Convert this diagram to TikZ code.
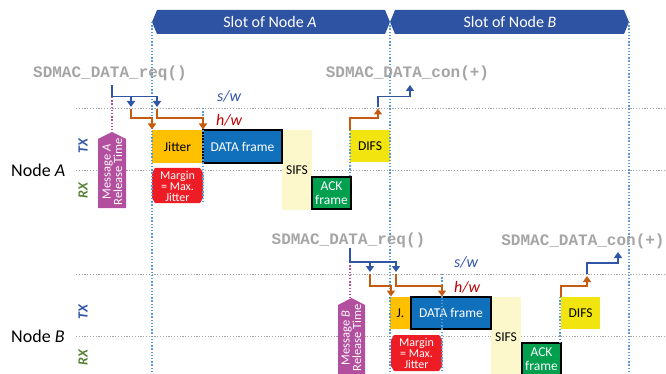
\documentclass[tikz,border=0pt]{standalone}
\usepackage{fontspec}
\setmainfont{Carlito}
\newfontfamily\codefont{Liberation Mono}
\usetikzlibrary{arrows.meta}
\definecolor{slotblue}{HTML}{2F53A3}
\definecolor{swblue}{HTML}{2F55A4}
\definecolor{hwred}{HTML}{C00000}
\definecolor{hworange}{HTML}{C55A11}
\definecolor{rxgreen}{HTML}{538135}
\definecolor{guide}{HTML}{5B9BD5}
\definecolor{gridgray}{HTML}{A6A6A6}
\definecolor{codegray}{HTML}{A5A5A5}
\definecolor{jitcol}{HTML}{FFC000}
\definecolor{datacol}{HTML}{1170BC}
\definecolor{sifscol}{HTML}{FDF8CC}
\definecolor{ackcol}{HTML}{00A04F}
\definecolor{margcol}{HTML}{EE1C25}
\definecolor{difscol}{HTML}{F2E50F}
\definecolor{msgcol}{HTML}{B24F9E}
\begin{document}
\begin{tikzpicture}[x=1pt,y=-1pt,
  gridline/.style={gridgray, line width=0.8pt, dash pattern=on 1.2pt off 1.6pt},
  guideline/.style={guide, line width=1.4pt, dash pattern=on 1.4pt off 1.8pt},
  relline/.style={msgcol, line width=1.4pt, dash pattern=on 1.4pt off 1.8pt},
  swarrow/.style={swblue, line width=1.8pt, -{Triangle[width=8pt,length=6pt]}},
  hwarrow/.style={hworange, line width=1.8pt, -{Triangle[width=8pt,length=6pt]}},
  lbl/.style={inner sep=0pt, align=center, font=\fontsize{13.5}{14}\selectfont},
  boxn/.style={lbl, anchor=north west, outer sep=0pt},
  framed/.style={draw=black, line width=1.2pt},
  code/.style={inner sep=0pt, anchor=base, text=codegray,
    font=\codefont\bfseries\fontsize{16}{16}\selectfont},
  sidetx/.style={inner sep=0pt, rotate=90, text=swblue,
    font=\fontsize{14}{14}\selectfont\bfseries\itshape},
  siderx/.style={sidetx, text=rxgreen},
  layer/.style={inner sep=0pt, font=\fontsize{16}{16}\selectfont\itshape},
  nodename/.style={inner sep=0pt, anchor=west, font=\fontsize{18}{18}\selectfont},
  msgtext/.style={inner sep=0pt, rotate=90, text=white, align=center,
    font=\fontsize{12.5}{11.5}\selectfont},
  margtext/.style={inner sep=0pt, text=white, align=center,
    font=\fontsize{12}{11}\selectfont},
  slottext/.style={inner sep=0pt, text=white, font=\fontsize{16}{16}\selectfont}
]
\useasboundingbox (0,0) rectangle (666,374);
\clip (0,0) rectangle (666,374);

% ---------- horizontal grid lines ----------
\draw[gridline] (76,108) -- (666,108);
\draw[gridline] (76,170) -- (666,170);
\draw[gridline] (76,274) -- (666,274);
\draw[gridline] (76,336) -- (666,336);

% ---------- slot banners ----------
\fill[slotblue] (152,22) -- (157,10) -- (385,10) -- (390,22) -- (385,34) -- (157,34) -- cycle;
\fill[slotblue] (390,22) -- (395,10) -- (624,10) -- (629,22) -- (624,34) -- (395,34) -- cycle;
\node[slottext] (slotA) at (270,22) {Slot of Node \textit{A}};
\node[slottext] (slotB) at (510,22) {Slot of Node \textit{B}};

% ---------- node labels ----------
\node[nodename] (nodeA) at (11,170) {Node \textit{A}};
\node[nodename] (nodeB) at (11,336) {Node \textit{B}};
\node[sidetx] (txA) at (83,146) {TX};
\node[siderx] (rxA) at (83,191) {RX};
\node[sidetx] (txB) at (83,312) {TX};
\node[siderx] (rxB) at (83,358) {RX};

% ---------- node A timeline ----------
\node[boxn, fill=jitcol, minimum width=51, minimum height=33] (jitA) at (152,130) {Jitter};
\node[boxn, fill=sifscol, minimum width=30, minimum height=80] (sifsA) at (282,130) {SIFS};
\node[boxn, fill=datacol, framed, text=white, minimum width=79, minimum height=33] (dataA) at (203,130) {DATA frame};
\node[boxn, fill=ackcol, framed, text=white, minimum width=39, minimum height=32] (ackA) at (312,177) {ACK\\frame};
\node[boxn, fill=difscol, minimum width=40, minimum height=32] (difsA) at (350,130) {DIFS};
\fill[margcol] (155,168) -- (200,168) -- (203,173) -- (203,198) -- (200,203) -- (155,203) -- (152,198) -- (152,173) -- cycle;
\node[margtext] (margA) at (177.5,186) {Margin\\= Max.\\Jitter};
\fill[msgcol] (98,208) -- (98,139) -- (112,132) -- (126,139) -- (126,208) -- cycle;
\node[msgtext] (msgA) at (112.5,172) {Message \textit{A}\\Release Time};

% ---------- node B timeline ----------
\node[boxn, fill=jitcol, minimum width=21, minimum height=32] (jitB) at (390,297) {J.};
\node[boxn, fill=sifscol, minimum width=30, minimum height=80] (sifsB) at (491,297) {SIFS};
\node[boxn, fill=datacol, framed, text=white, minimum width=80, minimum height=32] (dataB) at (411,297) {DATA frame};
\node[boxn, fill=ackcol, framed, text=white, minimum width=39, minimum height=32] (ackB) at (522,343) {ACK\\frame};
\node[boxn, fill=difscol, minimum width=39, minimum height=32] (difsB) at (561,297) {DIFS};
\fill[margcol] (394,335) -- (439,335) -- (442,340) -- (442,366) -- (439,371) -- (394,371) -- (391,366) -- (391,340) -- cycle;
\node[margtext] (margB) at (416.5,353) {Margin\\= Max.\\Jitter};
\fill[msgcol] (338,380) -- (338,305) -- (351.5,298) -- (365,305) -- (365,380) -- cycle;
\node[msgtext] (msgB) at (351.5,338) {Message \textit{B}\\Release Time};

% ---------- slot boundaries and timing guides ----------
\draw[guideline] (152,22) -- (152,374);
\draw[guideline] (390,22) -- (390,374);
\draw[guideline] (629,22) -- (629,374);
\draw[guideline] (203,108) -- (203,204);
\draw[guideline] (350,130) -- (350,177);
\draw[guideline] (442,274) -- (442,372);
\draw[guideline] (560,297) -- (560,343);

% ---------- primitive calls ----------
\node[code] (reqA) at (110,78) {SDMAC\_DATA\_req()};
\node[code] (conA) at (407.5,78) {SDMAC\_DATA\_con(+)};
\node[code] (reqB) at (348.5,244) {SDMAC\_DATA\_req()};
\node[code] (conB) at (583,245) {SDMAC\_DATA\_con(+)};

\node[layer, text=swblue] (swA) at (229,96) {s/w};
\node[layer, text=hwred] (hwA) at (229,120) {h/w};
\node[layer, text=swblue] (swB) at (466,262) {s/w};
\node[layer, text=hwred] (hwB) at (467,287) {h/w};

% ---------- node A request / confirm paths ----------
\draw[relline] (112,97) -- (112,132);
\draw[swarrow] (112,85) -- (112,96.5) -- (157,96.5) -- (157,107);
\draw[swarrow] (131,96.5) -- (131,107);
\draw[hwarrow] (131,109) -- (131,118) -- (152,118) -- (152,129.5);
\draw[hwarrow] (157,109) -- (157,118) -- (203,118) -- (203,129.5);
\draw[hwarrow] (difsA.north west) -- (350,118) -- (378,118) -- (378,108.5);
\draw[swarrow] (378,107) -- (378,96.5) -- (410,96.5) -- (410,85);

% ---------- node B request / confirm paths ----------
\draw[relline] (350,262) -- (350,298);
\draw[swarrow] (350,248) -- (350,262) -- (396,262) -- (396,272);
\draw[swarrow] (370,262) -- (370,272);
\draw[hwarrow] (370,274) -- (370,286) -- (391,286) -- (391,296.5);
\draw[hwarrow] (396,274) -- (396,286) -- (442,286) -- (442,296.5);
\draw[hwarrow] (difsB.north west) -- (561,286) -- (587,286) -- (587,276);
\draw[swarrow] (587,274) -- (587,263) -- (618,263) -- (618,252);
\end{tikzpicture}
\end{document}
